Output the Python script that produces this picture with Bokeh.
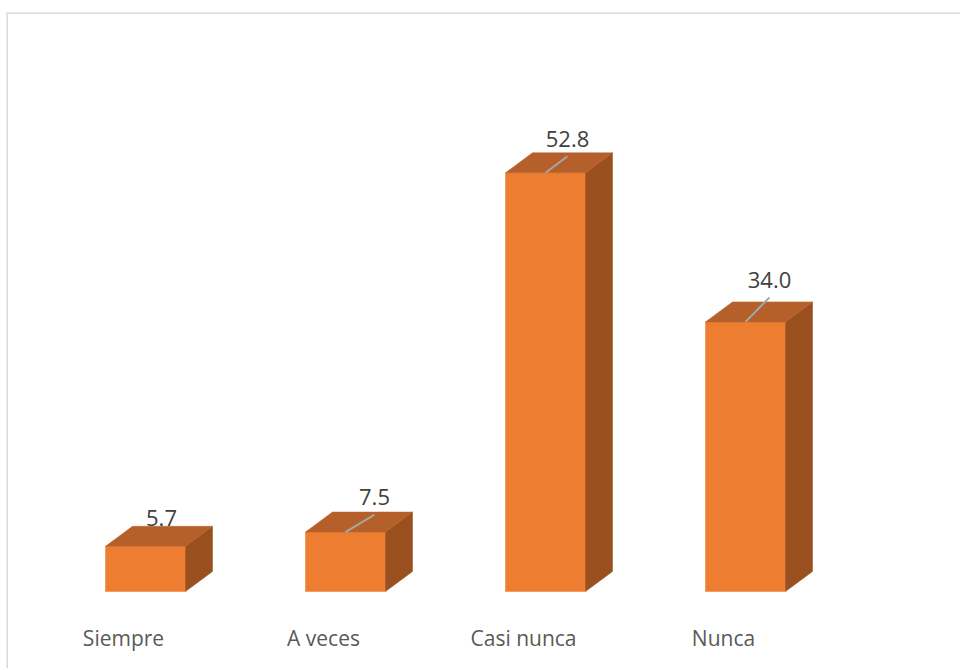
from bokeh.plotting import figure
from bokeh.models import ColumnDataSource, Range1d, Span
from bokeh.core.properties import value
from bokeh.embed import file_html
from bokeh.resources import INLINE

# ---- data ----
categories = ["Siempre", "A veces", "Casi nunca", "Nunca"]
values = [5.7, 7.5, 52.8, 34.0]
value_labels = ["5.7", "7.5", "52.8", "34.0"]

# ---- layout / style (pixels) ----
lbl_dx = [16, 29, 22, 24]        # value-label offset from bar centre (px)
lbl_dy = [-28, -35, -34, -42]    # value-label offset from bar top (px, negative = up)
show_leader = [False, True, True, True]

W, H = 960, 668
TOP_PAD = 12
LEFT_PAD = 6
FRAME_W = W - LEFT_PAD
FRAME_H = H - TOP_PAD
PX_X = 200.0          # pixels per category step
PX_Y = 7.93           # pixels per value unit
x_start = -(145 - LEFT_PAD) / PX_X
x_end = x_start + FRAME_W / PX_X
y_start = -(H - 591) / PX_Y
y_end = y_start + FRAME_H / PX_Y

HALF = 40 / PX_X      # half bar width
DX = 27 / PX_X        # depth offset x
DY = 20 / PX_Y        # depth offset y

FRONT = "#ED7D31"
TOPC = "#B5602A"
SIDE = "#9A4F1F"

p = figure(width=W, height=H, output_backend="svg", toolbar_location=None,
           x_axis_type=None, y_axis_type=None,
           x_range=Range1d(x_start, x_end), y_range=Range1d(y_start, y_end),
           min_border_left=LEFT_PAD, min_border_right=0, min_border_bottom=0,
           min_border_top=TOP_PAD)
p.outline_line_color = None
p.grid.visible = False
p.background_fill_color = "white"
p.border_fill_color = "white"

xs_idx = list(range(len(categories)))

# front faces
front = ColumnDataSource(dict(
    left=[i - HALF for i in xs_idx], right=[i + HALF for i in xs_idx],
    bottom=[0] * len(values), top=values))
p.quad(left="left", right="right", bottom="bottom", top="top", source=front,
       fill_color=FRONT, line_color=FRONT, line_width=0.5)

# top and side faces
top_xs, top_ys, side_xs, side_ys = [], [], [], []
for i, v in zip(xs_idx, values):
    top_xs.append([i - HALF, i - HALF + DX, i + HALF + DX, i + HALF])
    top_ys.append([v, v + DY, v + DY, v])
    side_xs.append([i + HALF, i + HALF, i + HALF + DX, i + HALF + DX])
    side_ys.append([0, v, v + DY, DY])
p.patches(xs=side_xs, ys=side_ys, fill_color=SIDE, line_color=SIDE, line_width=0.5)
p.patches(xs=top_xs, ys=top_ys, fill_color=TOPC, line_color=TOPC, line_width=0.5)

# value labels and leader lines
lx = [i + dx / PX_X for i, dx in zip(xs_idx, lbl_dx)]
ly = [v - dy / PX_Y for v, dy in zip(values, lbl_dy)]
lead_x0, lead_y0, lead_x1, lead_y1 = [], [], [], []
for i, v, x1, y1, s in zip(xs_idx, values, lx, ly, show_leader):
    if s:
        lead_x0.append(i)
        lead_y0.append(v)
        lead_x1.append(x1)
        lead_y1.append(y1 - 17.5 / PX_Y)
p.segment(x0=lead_x0, y0=lead_y0, x1=lead_x1, y1=lead_y1,
          line_color="#A6A6A6", line_width=2)

p.text(x=lx, y=ly, text=value_labels, text_align="center", text_baseline="middle",
       text_font=value("Open Sans"), text_font_size="22px", text_color="#404040")

# category labels
p.text(x=[i - 22 / PX_X for i in xs_idx], y=[-46 / PX_Y] * len(categories),
       text=categories, text_align="center", text_baseline="middle",
       text_font=value("Open Sans"), text_font_size="21px", text_color="#595959")

# chart border (left + top, as in the cropped reference)
p.add_layout(Span(location=x_start, dimension="height", line_color="#D9D9D9", line_width=3))
p.add_layout(Span(location=y_end, dimension="width", line_color="#D9D9D9", line_width=3))

open("out.html", "w").write(file_html(p, INLINE))
